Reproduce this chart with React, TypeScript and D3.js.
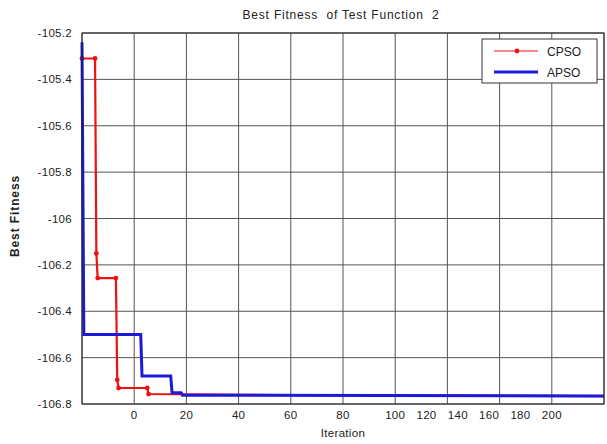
import React from 'react';
import * as d3 from 'd3';

// CPSO (red, dotted markers) and APSO (blue) best fitness per iteration
const cpsoIter = [-20, -15, -14.5, -14, -7, -6.5, -6, 5, 5.5, 60, 180];
const cpsoFit = [-105.31, -105.31, -106.15, -106.257, -106.257, -106.696, -106.731, -106.731, -106.757, -106.762, -106.766];

const apsoIter = [-20, -19.3, 2.5, 3, 14, 14.5, 18, 18.5, 180];
const apsoFit = [-105.24, -106.5, -106.5, -106.679, -106.679, -106.752, -106.752, -106.762, -106.765];

const yTicks = [-105.2, -105.4, -105.6, -105.8, -106, -106.2, -106.4, -106.6, -106.8];
const yTickLabels = ['-105.2', '-105.4', '-105.6', '-105.8', '-106', '-106.2', '-106.4', '-106.6', '-106.8'];
const xGrid = [-20, 0, 20, 40, 60, 80, 100, 120, 140, 160, 180];
// the labels past 100 sit squeezed together in the original figure
const xLabelPos = [0, 20, 40, 60, 80, 100, 112, 124, 136, 148, 160];
const xLabels = ['0', '20', '40', '60', '80', '100', '120', '140', '160', '180', '200'];

const seriesNames = ['CPSO', 'APSO'];
const seriesColors = ['#ee1111', '#1a1ad8'];

const W = 607;
const H = 444;
const margin = { top: 33, right: 3, bottom: 40, left: 82 };
const font = '"Liberation Sans", Arial, sans-serif';

const App: React.FC = () => {
  const x = d3.scaleLinear().domain([-20, 180]).range([margin.left, W - margin.right]);
  const y = d3.scaleLinear().domain([-106.8, -105.2]).range([H - margin.bottom, margin.top]);

  const cpso = cpsoIter.map((it, i) => [it, cpsoFit[i]] as [number, number]);
  const apso = apsoIter.map((it, i) => [it, apsoFit[i]] as [number, number]);

  const line = d3.line<[number, number]>()
    .x(d => x(d[0]))
    .y(d => y(d[1]));

  const [x0, x1] = x.range();
  const [y0, y1] = y.range();

  const lx = 482;
  const ly = 39;

  return (
    <div style={{ position: 'absolute', left: 0, top: 0 }}>
      <svg width={W} height={H} style={{ display: 'block', background: '#fff' }} fontFamily={font}>
        {/* grid */}
        {xGrid.map(v => (
          <line key={'gx' + v} x1={x(v)} x2={x(v)} y1={y1} y2={y0} stroke="#555" strokeWidth={1} />
        ))}
        {yTicks.map(v => (
          <line key={'gy' + v} x1={x0} x2={x1} y1={y(v)} y2={y(v)} stroke="#555" strokeWidth={1} />
        ))}

        {/* series */}
        <path d={line(cpso) || ''} fill="none" stroke={seriesColors[0]} strokeWidth={2.2} />
        {cpso.slice(0, -2).map((d, i) => (
          <circle key={'m' + i} cx={x(d[0])} cy={y(d[1])} r={2.4} fill={seriesColors[0]} />
        ))}
        <path d={line(apso) || ''} fill="none" stroke={seriesColors[1]} strokeWidth={3} />

        {/* axes box */}
        <rect x={x0} y={y1} width={x1 - x0} height={y0 - y1} fill="none" stroke="#222" strokeWidth={1} />

        {/* tick labels */}
        {yTicks.map((v, i) => (
          <text key={'ty' + v} x={x0 - 10} y={y(v) + 4} textAnchor="end" fontSize={11.5} letterSpacing={0.3} fill="#222">
            {yTickLabels[i]}
          </text>
        ))}
        {xLabelPos.map((v, i) => (
          <text key={'tx' + i} x={x(v)} y={y0 + 15} textAnchor="middle" fontSize={11.5} letterSpacing={0.3} fill="#222">
            {xLabels[i]}
          </text>
        ))}

        {/* titles */}
        <text x={341} y={19} textAnchor="middle" fontSize={12} letterSpacing={0.8} fill="#222" style={{ whiteSpace: 'pre' }}>
          {'Best Fitness  of Test Function  2'}
        </text>
        <text x={343} y={437} textAnchor="middle" fontSize={11.5} letterSpacing={0.3} fill="#222">Iteration</text>
        <text transform="translate(19,216) rotate(-90)" textAnchor="middle" fontSize={12} letterSpacing={0.9} fontWeight="bold" fill="#222">
          Best Fitness
        </text>

        {/* legend */}
        <rect x={lx} y={ly} width={115} height={44} fill="#fff" stroke="#333" strokeWidth={1} />
        <line x1={lx + 12} x2={lx + 56} y1={ly + 12} y2={ly + 12} stroke={seriesColors[0]} strokeWidth={1.2} />
        <circle cx={lx + 35} cy={ly + 12} r={2.4} fill={seriesColors[0]} />
        <line x1={lx + 12} x2={lx + 56} y1={ly + 33} y2={ly + 33} stroke={seriesColors[1]} strokeWidth={3} />
        <text x={lx + 65} y={ly + 17} fontSize={12} fill="#222">{seriesNames[0]}</text>
        <text x={lx + 65} y={ly + 38} fontSize={12} fill="#222">{seriesNames[1]}</text>
      </svg>
    </div>
  );
};

export default App;
